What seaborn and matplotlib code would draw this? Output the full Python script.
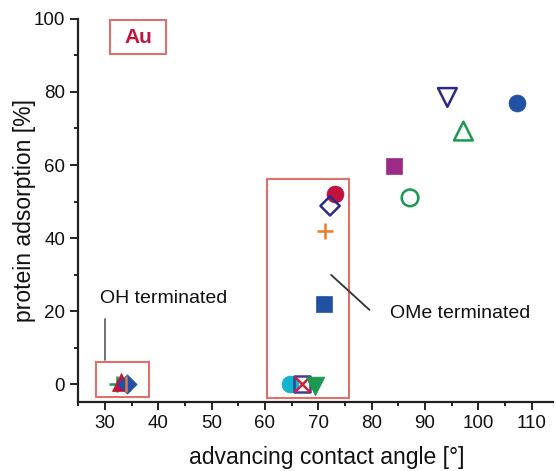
import matplotlib
matplotlib.use("Agg")
import matplotlib.pyplot as plt
from matplotlib.patches import Rectangle
from matplotlib.ticker import MultipleLocator
import seaborn as sns

sns.set_style("ticks")
plt.rcParams["font.family"] = ["Liberation Sans", "DejaVu Sans"]

# advancing contact angle [deg] and protein adsorption [%] per surface series
series_names = [
    "blue_circle", "navy_down_tri", "green_up_tri", "purple_square",
    "green_open_circle", "red_circle", "navy_diamond", "orange_plus",
    "blue_square", "cyan_circle", "navy_open_square", "red_cross",
    "green_down_tri", "green_plus", "red_tri", "blue_diamond", "orange_bar",
]
angle = [107.3, 94.2, 97.2, 84.2, 87.2, 73.1, 72.2, 71.3, 71.1,
         64.7, 67.0, 67.0, 69.4, 32.2, 33.0, 34.2, 34.0]
adsorption = [77.0, 78.5, 69.3, 59.7, 51.0, 52.0, 48.8, 42.0, 22.0,
              0.0, 0.0, 0.0, -0.5, 0.0, 0.5, 0.0, 0.0]
markers = ["o", "v", "^", "s", "o", "o", "D", "+", "s",
           "o", "s", "x", "v", "+", "^", "D", "|"]
colors = ["#2151a3", "#2b2a86", "#1a9a4f", "#9c2a88", "#1a9a4f", "#c0123c",
          "#2b2a86", "#ea7b2e", "#2151a3", "#12b4cf", "#3b3f9a", "#d0203c",
          "#1a9a4f", "#1a9a4f", "#c0123c", "#2151a3", "#ea7b2e"]
filled = [True, False, False, True, False, True, False, True, True,
          True, False, True, True, True, True, True, True]
sizes = [12.2, 13.5, 13.5, 11.5, 12.0, 12.2, 9.8, 11.5, 11.5,
         12.2, 11.5, 11.5, 13.5, 11.5, 13.0, 9.8, 12.0]

fig = plt.figure(figsize=(5.56, 4.71), dpi=100)
ax = fig.add_axes([0.1408, 0.1459, 0.8538, 0.8138])

for i in range(len(series_names)):
    m = markers[i]
    line_marker = m in ("+", "x", "|")
    kw = dict(x=[angle[i]], y=[adsorption[i]], marker=m, s=sizes[i] ** 2,
              ax=ax, zorder=3)
    if line_marker:
        kw.update(color=colors[i], linewidth=1.8)
    elif filled[i]:
        kw.update(color=colors[i], edgecolor=colors[i], linewidth=0.5)
    else:
        kw.update(color=colors[i], facecolor="none", edgecolor=colors[i],
                  linewidth=1.8)
    sns.scatterplot(**kw)

box_color = "#e0706c"
# grouping frames
ax.add_patch(Rectangle((28.4, -3.6), 9.9, 9.5, fill=False,
                       edgecolor=box_color, linewidth=1.5, zorder=2))
ax.add_patch(Rectangle((60.3, -3.9), 15.5, 60.2, fill=False,
                       edgecolor=box_color, linewidth=1.5, zorder=2))

# annotations
ax.plot([30.0, 30.0], [17.8, 6.6], color="#666666", linewidth=1.3)
ax.text(29.1, 23.3, "OH terminated", fontsize=14, va="center", ha="left",
        color="#111111")
ax.plot([72.4, 79.6], [29.9, 20.3], color="#333333", linewidth=1.3)
ax.text(83.5, 19.2, "OMe terminated", fontsize=14, va="center", ha="left",
        color="#111111")

# substrate label
ax.add_patch(Rectangle((31.0, 90.3), 10.4, 9.5, fill=False,
                       edgecolor=box_color, linewidth=1.5, zorder=2))
ax.text(36.2, 95.0, "Au", fontsize=15, fontweight="bold", color="#c0143c",
        ha="center", va="center")

ax.set_xlim(25, 114)
ax.set_ylim(-5, 100)
ax.xaxis.set_major_locator(MultipleLocator(10))
ax.xaxis.set_minor_locator(MultipleLocator(5))
ax.yaxis.set_major_locator(MultipleLocator(20))
ax.yaxis.set_minor_locator(MultipleLocator(10))
ax.tick_params(which="major", length=5.5, width=1.4, labelsize=13.5,
               direction="out", color="#222222", labelcolor="#111111",
               pad=4)
ax.tick_params(which="minor", length=3, width=1.4, direction="out",
               color="#222222")
for side in ("top", "right"):
    ax.spines[side].set_visible(False)
for side in ("left", "bottom"):
    ax.spines[side].set_linewidth(1.6)
    ax.spines[side].set_color("#222222")

ax.set_xlabel("advancing contact angle [°]", fontsize=16.5, color="#111111")
ax.set_ylabel("protein adsorption [%]", fontsize=16.5, color="#111111")
ax.xaxis.set_label_coords(0.524, -0.113)
ax.yaxis.set_label_coords(-0.089, 0.5)

fig.savefig("out.png", dpi=100)
